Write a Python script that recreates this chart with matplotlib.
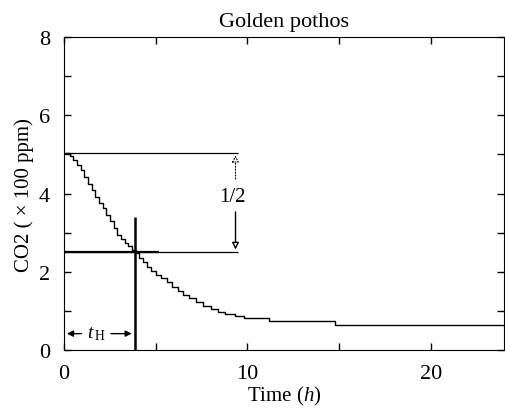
import matplotlib.pyplot as plt
from matplotlib.ticker import MultipleLocator

# staircase CO2 readings (x100 ppm)
time_h = [0.1, 0.3, 0.5, 0.7, 0.9, 1.1, 1.3, 1.5, 1.7, 1.9, 2.1, 2.3, 2.5,
          2.7, 2.9, 3.1, 3.3, 3.5, 3.7, 3.9, 4.1, 4.3, 4.5, 4.75, 5.0, 5.3,
          5.6, 5.9, 6.2, 6.5, 6.8, 7.2, 7.6, 8.0, 8.4, 8.8, 9.3, 9.8, 11.2,
          14.8, 24.0]
co2 = [5.05, 4.95, 4.85, 4.72, 4.6, 4.42, 4.25, 4.1, 3.92, 3.77, 3.62, 3.45,
       3.3, 3.12, 2.95, 2.85, 2.74, 2.65, 2.56, 2.48, 2.35, 2.25, 2.12, 2.02,
       1.93, 1.84, 1.74, 1.6, 1.5, 1.4, 1.32, 1.22, 1.12, 1.05, 0.98, 0.92,
       0.86, 0.83, 0.75, 0.63, 0.62]

c_start = 5.05
c_half = 2.5
t_half = 3.84

plt.rcParams['font.family'] = ['Liberation Serif', 'DejaVu Serif']
plt.rcParams['mathtext.fontset'] = 'custom'
plt.rcParams['mathtext.rm'] = 'Liberation Serif'
plt.rcParams['mathtext.it'] = 'Liberation Serif:italic'

fig = plt.figure(figsize=(5.05, 4.14), dpi=100)
ax = fig.add_axes([0.127, 0.152, 0.871, 0.756])

ax.plot(time_h, co2, drawstyle='steps-post', color='black', lw=1.0)

# half-life construction lines
ax.hlines(c_start, 0, 9.5, color='black', lw=0.9)
ax.hlines(c_half, 0, 9.5, color='black', lw=0.9)
ax.hlines(c_half, 0, 5.2, color='black', lw=1.6)
ax.vlines(t_half, 0, 3.4, color='black', lw=1.8)

# 1/2 arrows
ax.annotate('', xy=(9.35, c_start), xytext=(9.35, 4.3),
            arrowprops=dict(arrowstyle='-|>', color='black', lw=0.8, ls=':',
                            fc='white', mutation_scale=10))
ax.annotate('', xy=(9.35, c_half), xytext=(9.35, 3.6),
            arrowprops=dict(arrowstyle='-|>', color='black', lw=1.0,
                            fc='white', mutation_scale=10))
ax.text(9.2, 3.92, '1/2', ha='center', va='center', fontsize=15)

# t_H arrows
ax.annotate('', xy=(0, 0.42), xytext=(1.1, 0.42),
            arrowprops=dict(arrowstyle='-|>', color='black', lw=1.0,
                            mutation_scale=9))
ax.annotate('', xy=(t_half, 0.42), xytext=(2.4, 0.42),
            arrowprops=dict(arrowstyle='-|>', color='black', lw=1.0,
                            mutation_scale=9))
ax.text(1.75, 0.42, r'$t_{\,\mathrm{H}}$', ha='center', va='center', fontsize=14)

ax.set_xlim(0, 24)
ax.set_ylim(0, 8)
ax.xaxis.set_major_locator(MultipleLocator(10))
ax.xaxis.set_minor_locator(MultipleLocator(5))
ax.yaxis.set_major_locator(MultipleLocator(2))
ax.yaxis.set_minor_locator(MultipleLocator(1))
ax.tick_params(which='both', direction='in', top=True, right=True,
               labelsize=16, length=5, width=1)
ax.tick_params(axis='x', pad=10)
ax.tick_params(axis='y', pad=10)

ax.set_xlabel('Time ($h$)', fontsize=15, labelpad=1)
ax.set_ylabel('CO2 ( × 100 ppm)', fontsize=15, labelpad=4)
ax.set_title('Golden pothos', fontsize=16, pad=8)

fig.savefig('out.png', dpi=100)
